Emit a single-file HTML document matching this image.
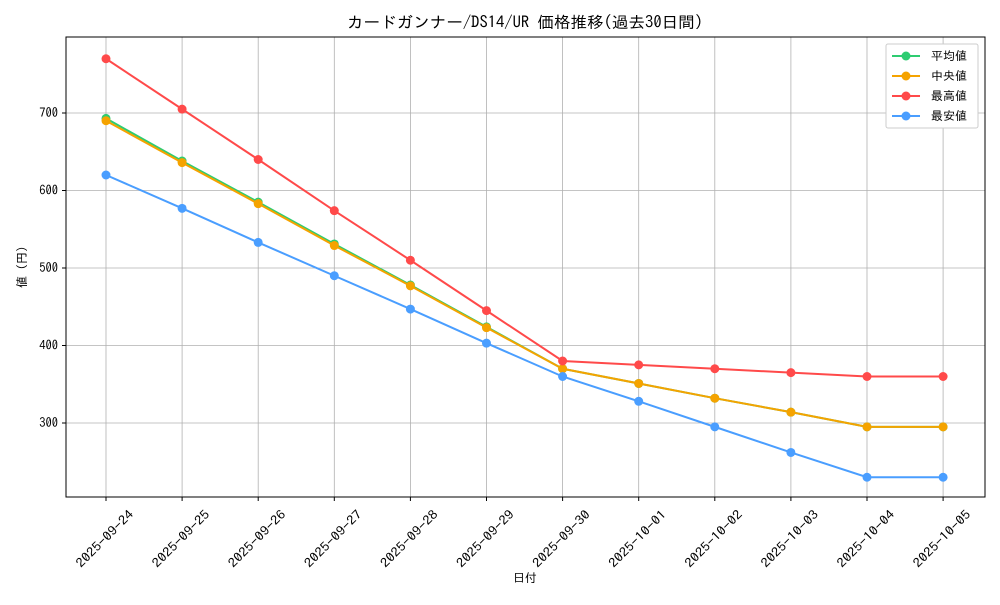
<!DOCTYPE html>
<html><head><meta charset="utf-8"><style>
html,body{margin:0;padding:0;background:#fff;}
svg text{font-family:"IPAGothic","Liberation Mono","Noto Sans CJK JP",monospace;fill:#000;}
</style></head><body>
<svg width="1000" height="600" xmlns="http://www.w3.org/2000/svg">
<rect width="1000" height="600" fill="#fff"/>
<text x="525" y="28" font-size="16" text-anchor="middle" textLength="356" lengthAdjust="spacingAndGlyphs">カードガンナー/DS14/UR 価格推移(過去30日間)</text>
<g id="grid" stroke="#b0b0b0" stroke-width="0.8"></g>
<rect x="66" y="37" width="919" height="460" fill="none" stroke="#000" stroke-width="1"/>
<g id="ticks"></g>
<g id="series"></g>
<text x="525" y="582" font-size="12" text-anchor="middle">日付</text>
<text x="26" y="267" font-size="12" text-anchor="middle" transform="rotate(-90 26 267)">値 (円)</text>
<g>
<rect x="886" y="44" width="92" height="84" fill="#fff" stroke="#ccc" rx="2"/>
<line x1="892" y1="56" x2="920" y2="56" stroke="#2ecc71" stroke-width="2"/><circle cx="906" cy="56" r="4.5" fill="#2ecc71"/><text x="931" y="60" font-size="12">平均値</text>
<line x1="892" y1="76" x2="920" y2="76" stroke="#f5a300" stroke-width="2"/><circle cx="906" cy="76" r="4.5" fill="#f5a300"/><text x="931" y="80" font-size="12"> 中央値</text>
<line x1="892" y1="96" x2="920" y2="96" stroke="#ff4a4a" stroke-width="2"/><circle cx="906" cy="96" r="4.5" fill="#ff4a4a"/><text x="931" y="100" font-size="12">最高値</text>
<line x1="892" y1="116" x2="920" y2="116" stroke="#4a9eff" stroke-width="2"/><circle cx="906" cy="116" r="4.5" fill="#4a9eff"/><text x="931" y="120" font-size="12">最安値</text>
</g>
<script>
var ns="http://www.w3.org/2000/svg";
function el(p,t,a,txt){var e=document.createElementNS(ns,t);for(var k in a)e.setAttribute(k,a[k]);if(txt!=null)e.textContent=txt;document.getElementById(p).appendChild(e);return e;}
function X(i){return 106+i*76.1;}
function Y(v){return 423-(v-300)*0.775;}
var dates=["2025-09-24","2025-09-25","2025-09-26","2025-09-27","2025-09-28","2025-09-29","2025-09-30","2025-10-01","2025-10-02","2025-10-03","2025-10-04","2025-10-05"];
for(var i=0;i<12;i++){var x=X(i);el("grid","line",{x1:x,y1:37,x2:x,y2:497});
el("ticks","line",{x1:x,y1:497,x2:x,y2:501,stroke:"#000"});
var cx=x-1,cy=539;
el("ticks","text",{x:cx,y:cy+4,"font-size":"12.5","text-anchor":"middle",textLength:"75",lengthAdjust:"spacingAndGlyphs",transform:"rotate(-45 "+cx+" "+cy+")"},dates[i]);}
[300,400,500,600,700].forEach(function(v){var y=Y(v);el("grid","line",{x1:66,y1:y,x2:985,y2:y});
el("ticks","line",{x1:62,y1:y,x2:66,y2:y,stroke:"#000"});
el("ticks","text",{x:58,y:y+4,"font-size":"12.5","text-anchor":"end"},v);});
var S=[["#2ecc71",[693,638,585,531,478,424,370,351,332,314,295,295]],
["#f5a300",[690,636,583,529,477,423,370,351,332,314,295,295]],
["#ff4a4a",[770,705,640,574,510,445,380,375,370,365,360,360]],
["#4a9eff",[620,577,533,490,447,403,360,328,295,262,230,230]]];
S.forEach(function(s){var pts=s[1].map(function(v,i){return X(i)+","+Y(v)}).join(" ");
el("series","polyline",{points:pts,fill:"none",stroke:s[0],"stroke-width":"2"});
s[1].forEach(function(v,i){el("series","circle",{cx:X(i),cy:Y(v),r:4.5,fill:s[0]});});});
</script>
</svg>
</body></html>
